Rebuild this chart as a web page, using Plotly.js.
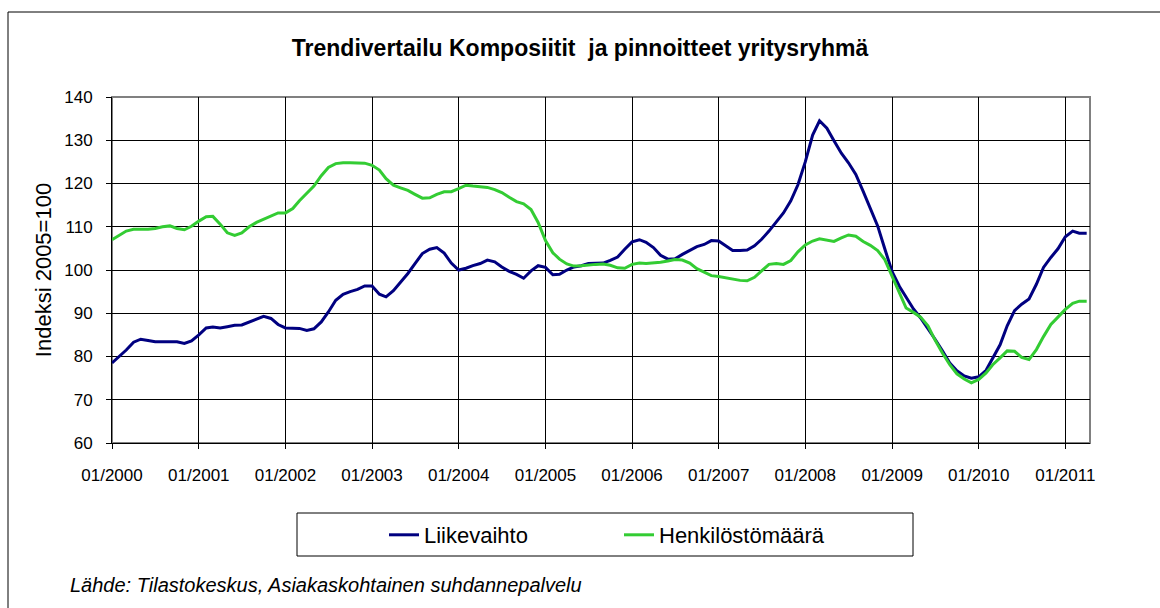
<!DOCTYPE html>
<html>
<head>
<meta charset="utf-8">
<script src="https://cdn.plot.ly/plotly-3.0.1.min.js"></script>
<style>
html,body{margin:0;padding:0;background:#fff;}
#chart{width:1160px;height:608px;}
</style>
</head>
<body>
<div id="chart"></div>
<script>
// Monthly series, 01/2000 .. 04/2011
var startYear = 2000;
var liikevaihto = [
  78.5, 80.0, 81.5, 83.3, 84.0, 83.7, 83.4, 83.4, 83.4, 83.4, 83.0, 83.6,
  85.0, 86.6, 86.8, 86.6, 86.9, 87.2, 87.3, 88.0, 88.8, 89.3, 88.8, 87.4,
  86.6, 86.5, 86.5, 86.0, 86.4, 88.0, 90.3, 93.0, 94.4, 95.0, 95.5, 96.3,
  96.3, 94.4, 93.8, 95.2, 97.2, 99.2, 101.5, 103.8, 104.8, 105.2, 103.9, 101.6,
  100.0, 100.4, 101.0, 101.5, 102.3, 101.9, 100.7, 99.7, 99.0, 98.1, 99.8, 101.0,
  100.6, 98.9, 99.0, 100.0, 100.7, 101.0, 101.5, 101.5, 101.6, 102.2, 103.0, 104.8,
  106.5, 107.0, 106.4, 105.2, 103.4, 102.5, 102.6, 103.6, 104.6, 105.4, 105.9, 106.8,
  106.7, 105.6, 104.5, 104.5, 104.6, 105.6, 107.1, 109.0, 111.2, 113.2, 116.0, 119.7,
  125.0, 131.2, 134.5, 132.8, 129.9, 127.0, 124.8, 122.1, 118.2, 114.3, 110.2, 104.9,
  99.6, 96.2, 93.6, 91.0, 88.9, 86.5, 84.0, 81.3, 78.5, 76.7, 75.5, 75.0,
  75.3, 76.8, 79.5, 82.7, 87.1, 90.6, 92.1, 93.3, 96.7, 100.6, 102.9, 104.9,
  107.7, 109.0, 108.5, 108.5
];
var henkilostomaara = [
  107.0, 108.0, 109.0, 109.4, 109.4, 109.4, 109.6, 110.0, 110.2, 109.6, 109.3, 110.1,
  111.3, 112.3, 112.4, 110.6, 108.6, 108.0, 108.6, 110.0, 111.0, 111.7, 112.6, 113.2,
  113.2, 114.2, 116.0, 117.7, 119.4, 121.8, 123.7, 124.6, 124.8, 124.8, 124.8, 124.7,
  124.2, 123.1, 121.1, 119.6, 119.0, 118.4, 117.5, 116.6, 116.7, 117.5, 118.1, 118.1,
  118.8, 119.6, 119.4, 119.2, 119.1, 118.6, 117.9, 116.8, 115.8, 115.3, 114.0, 111.0,
  106.8, 104.0, 102.5, 101.4, 100.9, 101.0, 101.2, 101.3, 101.4, 101.1, 100.5, 100.4,
  101.3, 101.6, 101.5, 101.6, 101.8, 102.1, 102.4, 102.3, 101.6, 100.3, 99.5, 98.7,
  98.5, 98.2, 97.8, 97.6, 97.5, 98.3, 99.8, 101.3, 101.5, 101.3, 102.2, 104.2,
  105.8, 106.7, 107.2, 106.9, 106.6, 107.4, 108.1, 107.8, 106.6, 105.7, 104.5, 102.4,
  98.5, 94.4, 91.2, 90.2, 89.1, 87.1, 83.8, 80.8, 78.1, 76.0, 74.8, 73.9,
  74.7, 76.2, 78.1, 79.7, 81.3, 81.2, 79.8, 79.3, 81.6, 84.6, 87.4, 89.1,
  90.9, 92.3, 92.8, 92.8
];
var seriesNames = ['Liikevaihto', 'Henkilöstömäärä'];
var tickYears = [2000,2001,2002,2003,2004,2005,2006,2007,2008,2009,2010,2011];

function pad(n){ return (n<10?'0':'')+n; }
var months = [];
for (var i = 0; i < liikevaihto.length; i++) {
  var y = startYear + Math.floor(i/12), m = (i%12)+1;
  months.push(y + '-' + pad(m) + '-01');
}
var tickvals = tickYears.map(function(y){ return y + '-01-01'; });
var ticktext = tickYears.map(function(y){ return '01/' + y; });

var FONT = '"Liberation Sans", Arial, sans-serif';

var traces = [
  {x: months, y: liikevaihto, name: seriesNames[0], type: 'scatter', mode: 'lines',
   line: {color: '#000080', width: 3}},
  {x: months, y: henkilostomaara, name: seriesNames[1], type: 'scatter', mode: 'lines',
   line: {color: '#33CC33', width: 3}}
];

var L = 112, R = 1090, T = 97, B = 443;
function px(xp){ return (xp - L) / (R - L); }
function py(yp){ return (B - yp) / (B - T); }

var layout = {
  width: 1160, height: 608,
  margin: {l: L, r: 1160 - R, t: T, b: 608 - B},
  paper_bgcolor: '#fff', plot_bgcolor: '#fff',
  font: {family: FONT, color: '#000', size: 17},
  title: {text: 'Trendivertailu Komposiitit  ja pinnoitteet yritysryhmä',
          font: {family: FONT, size: 23, color: '#000', weight: 'bold'},
          x: 0.5, xanchor: 'center', y: 1 - 48/608, yanchor: 'middle'},
  xaxis: {type: 'date', range: ['2000-01-01', '2011-04-15'],
          tickvals: tickvals, ticktext: ticktext,
          showgrid: true, gridcolor: '#000', gridwidth: 1,
          showline: true, linecolor: '#000', linewidth: 1,
          ticks: 'outside', ticklen: 5, tickcolor: '#000', ticklabelstandoff: 12,
          tickfont: {family: FONT, size: 17, color: '#000'},
          zeroline: false, fixedrange: true},
  yaxis: {range: [60, 140], dtick: 10, tick0: 60,
          showgrid: true, gridcolor: '#000', gridwidth: 1,
          showline: true, linecolor: '#000', linewidth: 1,
          ticks: 'outside', ticklen: 5, tickcolor: '#000', ticklabelstandoff: 10,
          tickfont: {family: FONT, size: 17, color: '#000'},
          title: {text: 'Indeksi 2005=100', font: {family: FONT, size: 22, color: '#000'}, standoff: 6},
          zeroline: false, fixedrange: true},
  showlegend: true,
  legend: {orientation: 'h', x: px(384), xanchor: 'left', y: py(535), yanchor: 'middle',
           font: {family: FONT, size: 22, color: '#000'},
           bgcolor: 'rgba(0,0,0,0)', borderwidth: 0, entrywidth: 190, entrywidthmode: 'pixels'},
  shapes: [
    {type: 'rect', xref: 'paper', yref: 'paper', x0: 0, x1: 1, y0: 0, y1: 1,
     line: {color: '#808080', width: 2}, layer: 'below'},
    {type: 'rect', xref: 'paper', yref: 'paper', x0: px(297), x1: px(913), y0: py(556), y1: py(513),
     line: {color: '#000', width: 1}},
    {type: 'rect', xref: 'paper', yref: 'paper', x0: px(8), x1: px(1163), y0: py(625), y1: py(12),
     line: {color: '#000', width: 1}}
  ],
  annotations: [
    {text: '<i>Lähde: Tilastokeskus, Asiakaskohtainen suhdannepalvelu</i>',
     xref: 'paper', yref: 'paper', x: px(68), y: py(585), xanchor: 'left', yanchor: 'middle',
     showarrow: false, font: {family: FONT, size: 20, color: '#000'}}
  ]
};

Plotly.newPlot('chart', traces, layout, {displayModeBar: false, staticPlot: true});
</script>
</body>
</html>
